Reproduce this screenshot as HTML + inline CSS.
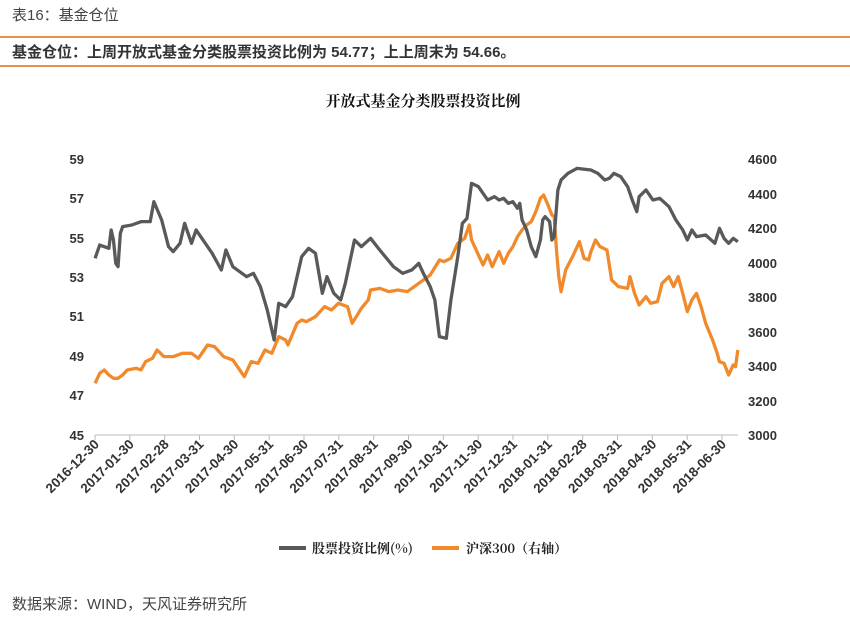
<!DOCTYPE html>
<html><head><meta charset="utf-8"><style>
body{margin:0;background:#fff;width:850px;height:631px;overflow:hidden;font-family:"Liberation Sans","Noto Sans CJK SC",sans-serif;}
</style></head><body>
<svg width="850" height="631" xmlns="http://www.w3.org/2000/svg">
<text x="12" y="20" font-size="15" fill="#444" font-family="Liberation Sans,Noto Sans CJK SC,sans-serif">表16：基金仓位</text>
<line x1="0" y1="37" x2="850" y2="37" stroke="#e8914a" stroke-width="2"/>
<text x="12" y="57" font-size="15" font-weight="bold" fill="#333" font-family="Liberation Sans,Noto Sans CJK SC,sans-serif">基金仓位：上周开放式基金分类股票投资比例为 54.77；上上周末为 54.66。</text>
<line x1="0" y1="66" x2="850" y2="66" stroke="#e8914a" stroke-width="2"/>
<text x="423" y="106" font-size="15" text-anchor="middle" fill="#111" font-weight="bold" font-family="Noto Serif CJK SC,serif">开放式基金分类股票投资比例</text>
<g font-size="13" font-weight="bold" fill="#333" font-family="Liberation Sans,sans-serif">
<text x="84" y="164" text-anchor="end">59</text><text x="84" y="203" text-anchor="end">57</text>
<text x="84" y="243" text-anchor="end">55</text><text x="84" y="282" text-anchor="end">53</text>
<text x="84" y="321" text-anchor="end">51</text><text x="84" y="361" text-anchor="end">49</text>
<text x="84" y="400" text-anchor="end">47</text><text x="84" y="440" text-anchor="end">45</text>
<text x="748" y="164">4600</text><text x="748" y="199">4400</text><text x="748" y="233">4200</text>
<text x="748" y="268">4000</text><text x="748" y="302">3800</text><text x="748" y="337">3600</text>
<text x="748" y="371">3400</text><text x="748" y="406">3200</text><text x="748" y="440">3000</text>
</g>
<line x1="95" y1="435" x2="738" y2="435" stroke="#bbb" stroke-width="1"/>
<g stroke="#bbb">
<line x1="95" y1="435" x2="95" y2="440"/><line x1="129.8" y1="435" x2="129.8" y2="440"/><line x1="164.7" y1="435" x2="164.7" y2="440"/><line x1="199.5" y1="435" x2="199.5" y2="440"/><line x1="234.3" y1="435" x2="234.3" y2="440"/><line x1="269.2" y1="435" x2="269.2" y2="440"/><line x1="304" y1="435" x2="304" y2="440"/><line x1="338.8" y1="435" x2="338.8" y2="440"/><line x1="373.7" y1="435" x2="373.7" y2="440"/><line x1="408.5" y1="435" x2="408.5" y2="440"/><line x1="443.3" y1="435" x2="443.3" y2="440"/><line x1="478.2" y1="435" x2="478.2" y2="440"/><line x1="513" y1="435" x2="513" y2="440"/><line x1="547.8" y1="435" x2="547.8" y2="440"/><line x1="582.7" y1="435" x2="582.7" y2="440"/><line x1="617.5" y1="435" x2="617.5" y2="440"/><line x1="652.3" y1="435" x2="652.3" y2="440"/><line x1="687.2" y1="435" x2="687.2" y2="440"/><line x1="722" y1="435" x2="722" y2="440"/>
</g>
<g font-size="13.5" font-weight="bold" fill="#333" text-anchor="end" font-family="Liberation Sans,sans-serif">
<text transform="translate(100,445) rotate(-45)">2016-12-30</text>
<text transform="translate(134.8,445) rotate(-45)">2017-01-30</text>
<text transform="translate(169.7,445) rotate(-45)">2017-02-28</text>
<text transform="translate(204.5,445) rotate(-45)">2017-03-31</text>
<text transform="translate(239.3,445) rotate(-45)">2017-04-30</text>
<text transform="translate(274.2,445) rotate(-45)">2017-05-31</text>
<text transform="translate(309,445) rotate(-45)">2017-06-30</text>
<text transform="translate(343.8,445) rotate(-45)">2017-07-31</text>
<text transform="translate(378.7,445) rotate(-45)">2017-08-31</text>
<text transform="translate(413.5,445) rotate(-45)">2017-09-30</text>
<text transform="translate(448.3,445) rotate(-45)">2017-10-31</text>
<text transform="translate(483.2,445) rotate(-45)">2017-11-30</text>
<text transform="translate(518,445) rotate(-45)">2017-12-31</text>
<text transform="translate(552.8,445) rotate(-45)">2018-01-31</text>
<text transform="translate(587.7,445) rotate(-45)">2018-02-28</text>
<text transform="translate(622.5,445) rotate(-45)">2018-03-31</text>
<text transform="translate(657.3,445) rotate(-45)">2018-04-30</text>
<text transform="translate(692.2,445) rotate(-45)">2018-05-31</text>
<text transform="translate(727,445) rotate(-45)">2018-06-30</text>
</g>
<g transform="translate(40,140) scale(0.4591,0.3333)" fill="none" stroke-linejoin="round">
<polyline vector-effect="non-scaling-stroke" stroke="#f08a2c" stroke-width="3.3" points="120,730 130,700 140,690 150,705 160,715 170,715 180,705 190,690 210,685 220,690 230,665 245,655 255,630 270,650 290,650 310,640 330,640 345,655 365,615 380,620 400,650 420,660 435,690 445,710 460,665 475,670 490,630 505,640 520,590 535,600 540,615 560,550 570,540 580,545 600,530 620,500 635,510 650,490 670,500 680,550 700,505 715,480 720,450 740,445 760,455 780,450 800,455 810,445 830,425 850,405 870,360 880,365 895,355 910,310 925,295 935,255 940,300 955,345 965,375 975,345 985,380 1000,335 1010,370 1020,340 1030,320 1040,290 1050,270 1060,255 1070,245 1080,215 1090,175 1097,165 1105,190 1115,225 1120,230 1125,330 1130,410 1135,455 1145,390 1160,350 1175,305 1185,355 1195,360 1200,335 1210,300 1220,320 1235,330 1245,420 1260,440 1280,445 1285,410 1295,460 1305,495 1320,470 1330,490 1345,485 1355,430 1370,410 1380,440 1390,410 1400,460 1410,515 1420,480 1430,460 1440,500 1450,550 1465,600 1475,640 1480,665 1490,670 1500,705 1510,675 1515,680 1520,630"/>
<polyline vector-effect="non-scaling-stroke" stroke="#595959" stroke-width="3.3" points="120,355 130,315 140,320 150,325 155,270 160,300 165,370 170,380 175,280 180,260 200,255 220,245 240,245 248,185 265,240 280,320 290,335 305,310 315,250 330,310 340,270 355,300 375,340 395,390 405,330 420,380 450,410 465,400 480,440 495,510 510,600 520,490 535,500 550,470 570,350 585,325 600,340 615,460 625,410 640,460 655,480 665,430 685,300 700,320 720,295 740,330 770,380 790,400 810,390 825,370 835,400 850,440 860,480 870,590 885,595 895,480 910,350 920,250 930,235 940,130 955,140 965,160 975,180 990,170 1000,180 1010,175 1020,190 1030,185 1040,205 1045,190 1050,240 1060,270 1070,320 1080,350 1090,300 1095,240 1100,230 1110,245 1115,300 1120,290 1128,150 1135,120 1150,100 1170,85 1200,90 1215,100 1230,120 1240,115 1250,100 1265,110 1280,140 1290,180 1300,215 1305,170 1320,150 1335,180 1350,175 1370,200 1385,240 1400,270 1410,300 1420,270 1430,290 1450,285 1470,310 1480,265 1490,295 1500,310 1510,295 1520,305"/>
</g>
<line x1="279" y1="548" x2="306" y2="548" stroke="#595959" stroke-width="4"/>
<text x="312" y="553" font-size="13" fill="#222" font-weight="bold" font-family="Noto Serif CJK SC,serif">股票投资比例(%)</text>
<line x1="432" y1="548" x2="459" y2="548" stroke="#f08a2c" stroke-width="4"/>
<text x="466" y="553" font-size="13" fill="#222" font-weight="bold" font-family="Noto Serif CJK SC,serif">沪深300（右轴）</text>
<text x="12" y="609" font-size="15" fill="#444" font-family="Liberation Sans,Noto Sans CJK SC,sans-serif">数据来源：WIND，天风证券研究所</text>
</svg>
</body></html>
